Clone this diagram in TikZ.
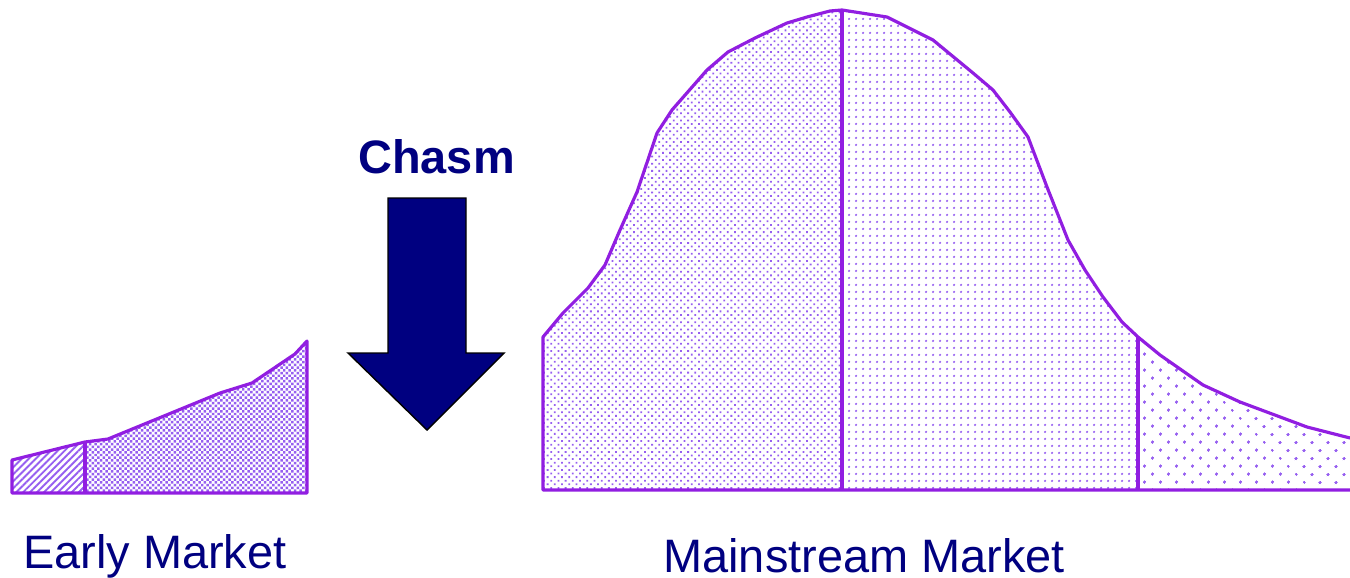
\documentclass[tikz,border=0pt]{standalone}
\usepackage{fontspec}
\setmainfont{Liberation Sans}
\usetikzlibrary{patterns.meta}
\definecolor{curve}{RGB}{145,30,225}
\definecolor{dotc}{RGB}{150,95,240}
\definecolor{navy}{RGB}{0,0,128}

\begin{document}
\begin{tikzpicture}[
  x=0.02cm, y=-0.02cm,
  lbl/.style={font=\fontsize{26.7}{30}\selectfont, text=navy, inner sep=0pt, text depth=0pt, anchor=base west},
  hdr/.style={lbl, font=\fontsize{26.7}{30}\selectfont\bfseries},
  outline/.style={draw=curve, line width=1.8pt, line join=round},
  dotfill/.style={pattern color=dotc, pattern={Dots[#1]}},
]
\useasboundingbox (0,0) rectangle (1350,578);
% curve outlines
\def\earlycurve{(12,493) -- (12,460) -- (85,442) -- (108,439) -- (220,393) -- (252,383) -- (295,354) -- (307,341) -- (307,493)}
\def\bellcurve{(543,490) -- (543,337) -- (563,313) -- (588,288) -- (605,265) -- (620,230) -- (637,192) -- (657,133) -- (672,110) -- (707,70) -- (728,52) -- (755,38) -- (787,23) -- (807,17) -- (830,11) -- (842,10) -- (887,17) -- (933,40) -- (973,73) -- (993,90) -- (1010,112) -- (1028,137) -- (1047,187) -- (1068,240) -- (1085,270) -- (1103,297) -- (1122,322) -- (1138,337) -- (1160,355) -- (1203,385) -- (1240,402) -- (1307,427) -- (1350,438)}
% early market fills
\begin{scope}
  \clip \earlycurve -- cycle;
  \fill[pattern color=dotc, pattern={Lines[angle=45, distance=2.8pt, line width=1.1pt]}] (0,300) rectangle (85,500);
  \fill[dotfill={angle=45, distance=2.2pt, radius=1pt}] (85,300) rectangle (310,500);
\end{scope}
% mainstream market fills
\begin{scope}
  \clip \bellcurve -- (1350,490) -- cycle;
  \fill[dotfill={angle=45, distance=2.9pt, radius=0.72pt}] (543,0) rectangle (842,490);
  \fill[dotfill={distance=4pt, radius=0.78pt}] (842,0) rectangle (1138,490);
  \fill[dotfill={angle=45, distance=6.4pt, radius=0.85pt}] (1138,0) rectangle (1350,490);
\end{scope}
\draw[outline] \earlycurve -- cycle;
\draw[outline] (85,493) -- (85,442);
\draw[outline] (1350,490) -- \bellcurve;
\draw[outline] (842,490) -- (842,10);
\draw[outline] (1138,490) -- (1138,337);
% chasm arrow
\draw[fill=navy, draw=black, line width=0.8pt, line join=miter] (388,198) -- (466,198) -- (466,353) -- (504,353) -- (427,430) -- (348,353) -- (388,353) -- cycle;
% labels
\node[hdr] (chasm) at (358,173) {Chasm};
\node[lbl] (early) at (23,568) {Early Market};
\node[lbl] (mainstream) at (663,572) {Mainstream Market};
\end{tikzpicture}
\end{document}
